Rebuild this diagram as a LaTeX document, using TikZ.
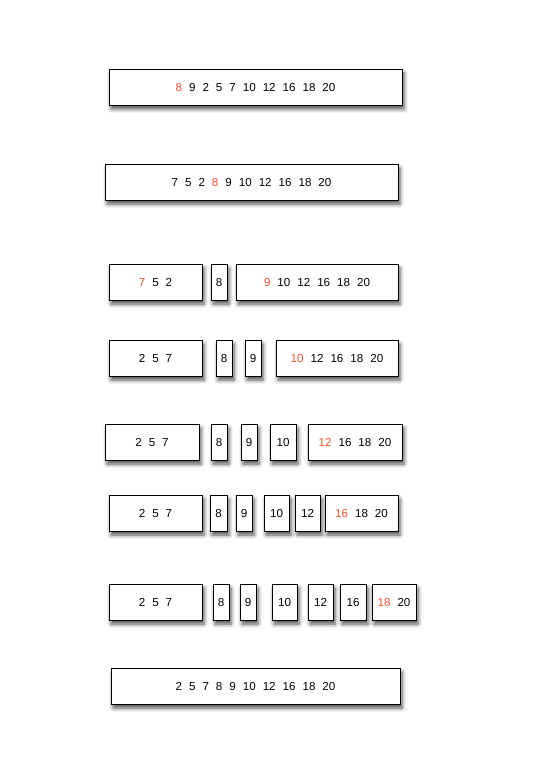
\documentclass[tikz,border=0pt]{standalone}
\usepackage{fontspec}
\setmainfont{Liberation Sans}
\usepackage{xcolor}
\usetikzlibrary{shadows,shadows.blur}
\definecolor{pivot}{RGB}{250,80,50}
\newcommand{\gap}{\hspace{7pt}}
\newcommand{\pv}[1]{\textcolor{pivot}{#1}}

\begin{document}
\begin{tikzpicture}[x=1pt, y=-1pt,
  seg/.style={draw, rectangle, fill=white, line width=0.85pt, minimum height=36, inner sep=0pt,
    text height=8.4pt, text depth=0pt, font=\fontsize{11.6}{13}\selectfont,
    blur shadow={shadow xshift=2pt, shadow yshift=-4pt, shadow blur radius=4pt, shadow opacity=70}}
]
\useasboundingbox (0,0) rectangle (559,783);

% row 1
\node[seg, minimum width=293] (a1) at (255.5,87) {\pv{8}\gap 9\gap 2\gap 5\gap 7\gap 10\gap 12\gap 16\gap 18\gap 20};
% row 2
\node[seg, minimum width=293] (b1) at (251.5,182) {7\gap 5\gap 2\gap \pv{8}\gap 9\gap 10\gap 12\gap 16\gap 18\gap 20};
% row 3
\node[seg, minimum width=93]  (c1) at (155.5,282) {\pv{7}\gap 5\gap 2};
\node[seg, minimum width=16]  (c2) at (219,282)   {8};
\node[seg, minimum width=162] (c3) at (317,282)   {\pv{9}\gap 10\gap 12\gap 16\gap 18\gap 20};
% row 4
\node[seg, minimum width=93]  (d1) at (155.5,358) {2\gap 5\gap 7};
\node[seg, minimum width=16]  (d2) at (224,358)   {8};
\node[seg, minimum width=16]  (d3) at (253,358)   {9};
\node[seg, minimum width=122] (d4) at (337,358)   {\pv{10}\gap 12\gap 16\gap 18\gap 20};
% row 5
\node[seg, minimum width=94]  (e1) at (152,442)   {2\gap 5\gap 7};
\node[seg, minimum width=16]  (e2) at (219,442)   {8};
\node[seg, minimum width=16]  (e3) at (249,442)   {9};
\node[seg, minimum width=26]  (e4) at (283,442)   {10};
\node[seg, minimum width=94]  (e5) at (355,442)   {\pv{12}\gap 16\gap 18\gap 20};
% row 6
\node[seg, minimum width=93]  (f1) at (155.5,513) {2\gap 5\gap 7};
\node[seg, minimum width=17]  (f2) at (218.5,513) {8};
\node[seg, minimum width=16]  (f3) at (244,513)   {9};
\node[seg, minimum width=25]  (f4) at (276.5,513) {10};
\node[seg, minimum width=25]  (f5) at (307.5,513) {12};
\node[seg, minimum width=73]  (f6) at (361.5,513) {\pv{16}\gap 18\gap 20};
% row 7
\node[seg, minimum width=93]  (g1) at (155.5,602) {2\gap 5\gap 7};
\node[seg, minimum width=16]  (g2) at (221,602)   {8};
\node[seg, minimum width=16]  (g3) at (248,602)   {9};
\node[seg, minimum width=25]  (g4) at (284.5,602) {10};
\node[seg, minimum width=25]  (g5) at (320.5,602) {12};
\node[seg, minimum width=26]  (g6) at (353,602)   {16};
\node[seg, minimum width=44]  (g7) at (394,602)   {\pv{18}\gap 20};
% row 8
\node[seg, minimum width=289] (h1) at (255.5,686) {2\gap 5\gap 7\gap 8\gap 9\gap 10\gap 12\gap 16\gap 18\gap 20};
\end{tikzpicture}
\end{document}
